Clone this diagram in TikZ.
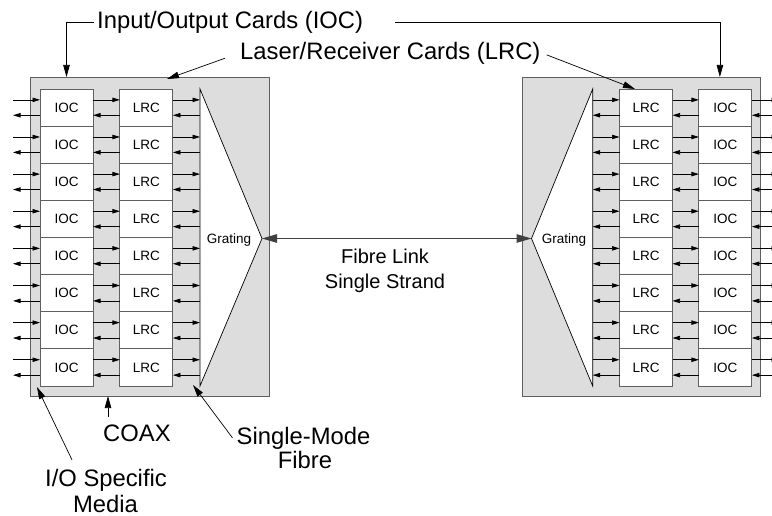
\documentclass[tikz,border=0pt]{standalone}
\usepackage{fontspec}
\setmainfont{Liberation Sans}
\usetikzlibrary{arrows.meta}
\definecolor{panelgray}{RGB}{221,221,221}
\definecolor{edgegray}{RGB}{95,95,95}
\begin{document}
\begin{tikzpicture}[x=1pt,y=-1pt,
  card/.style={draw=edgegray, line width=0.9pt, fill=white, minimum width=53pt, minimum height=37.125pt, inner sep=0pt, outer sep=0pt, font=\fontsize{13.5}{15}\selectfont},
  sig/.style={draw=black, line width=0.7pt, -{Triangle[length=7.5pt,width=4.4pt]}},
  lead/.style={draw=black, line width=0.7pt, -{Triangle[length=12pt,width=6.5pt]}},
  link/.style={draw=black!75, line width=1pt, {Triangle[length=15pt,width=8.5pt]}-{Triangle[length=15pt,width=8.5pt]}},
  biglbl/.style={inner sep=0pt, font=\fontsize{23.8}{26}\selectfont},
  midlbl/.style={inner sep=0pt, font=\fontsize{20}{24}\selectfont},
  small/.style={inner sep=0pt, font=\fontsize{13.5}{15}\selectfont},
  panel/.style={draw=edgegray, line width=0.9pt, fill=panelgray, inner sep=0pt, outer sep=0pt},
  grat/.style={draw=black, line width=0.7pt, fill=white}]
\clip (0,0) rectangle (772,516);
\fill[white] (0,0) rectangle (772,516);

% panels
\node[panel, minimum width=238.5pt, minimum height=319pt] (LP) at (149.75,236.5) {};
\node[panel, minimum width=238.2pt, minimum height=319pt] (RP) at (641.6,236.5) {};

% gratings
\coordinate (Ltip) at (262,238.5);
\coordinate (Rtip) at (531.5,238.5);
\draw[grat] (200,89) -- (Ltip) -- (200,386) -- cycle;
\draw[grat] (592.7,89) -- (Rtip) -- (592.7,386) -- cycle;

% cards and signal arrows
\foreach \i in {1,...,8}{
  \pgfmathsetmacro{\yc}{89+(\i-0.5)*37.125}
  \node[card] (Lioc\i) at (66.5,\yc) {IOC};
  \node[card] (Llrc\i) at (146.4,\yc) {LRC};
  \coordinate (Lg\i) at (200,\yc);
  \coordinate (Lo\i) at (13,\yc);
  \node[card] (Rlrc\i) at (646,\yc) {LRC};
  \node[card] (Rioc\i) at (725.4,\yc) {IOC};
  \coordinate (Rg\i) at (592.7,\yc);
  \coordinate (Ro\i) at (779,\yc);
  % left panel
  \draw[sig] ([yshift=7.7pt]Lo\i) -- ([yshift=7.7pt]Lioc\i.west);
  \draw[sig] ([yshift=7.7pt]Lioc\i.east) -- ([yshift=7.7pt]Llrc\i.west);
  \draw[sig] ([yshift=7.7pt]Llrc\i.east) -- ([yshift=7.7pt]Lg\i);
  \draw[sig] ([yshift=-7.7pt]Lg\i) -- ([yshift=-7.7pt]Llrc\i.east);
  \draw[sig] ([yshift=-7.7pt]Llrc\i.west) -- ([yshift=-7.7pt]Lioc\i.east);
  \draw[sig] ([yshift=-7.7pt]Lioc\i.west) -- ([yshift=-7.7pt]Lo\i);
  % right panel
  \draw[sig] ([yshift=7.7pt]Rg\i) -- ([yshift=7.7pt]Rlrc\i.west);
  \draw[sig] ([yshift=7.7pt]Rlrc\i.east) -- ([yshift=7.7pt]Rioc\i.west);
  \draw[sig] ([yshift=7.7pt]Rioc\i.east) -- ([yshift=7.7pt]Ro\i);
  \draw[sig] ([yshift=-7.7pt]Ro\i) -- ([yshift=-7.7pt]Rioc\i.east);
  \draw[sig] ([yshift=-7.7pt]Rioc\i.west) -- ([yshift=-7.7pt]Rlrc\i.east);
  \draw[sig] ([yshift=-7.7pt]Rlrc\i.west) -- ([yshift=-7.7pt]Rg\i);
}

% fibre link
\draw[link] (Ltip) -- (Rtip);
\node[small, anchor=base] (Lgratlbl) at (229,243.5) {Grating};
\node[small, anchor=base] (Rgratlbl) at (564,243.5) {Grating};
\node[midlbl, anchor=base] (fl1) at (385,263) {Fibre Link};
\node[midlbl, anchor=base] (fl2) at (385,288) {Single Strand};

% top labels
\node[biglbl, anchor=base west] (ioclbl) at (97,29) {Input/Output Cards (IOC)};
\node[biglbl, anchor=base west] (lrclbl) at (240,60) {Laser/Receiver Cards (LRC)};
\draw[lead] ([xshift=-3pt]ioclbl.west) -| ([yshift=12pt]Lioc1.north);
\draw[lead] ([xshift=32pt]ioclbl.east) -| ([xshift=-5.5pt,yshift=12pt]Rioc1.north);
\draw[lead] ([shift={(-15pt,-4.4pt)}]lrclbl.west) -- ([shift={(20.6pt,10pt)}]Llrc1.north);
\draw[lead] ([shift={(6pt,-1pt)}]lrclbl.east) -- ([xshift=-11pt]Rlrc1.north);

% bottom labels
\node[biglbl, anchor=base west] (coaxlbl) at (103,441.7) {COAX};
\node[biglbl, anchor=base] (iolbl) at (106,486.7) {I/O Specific};
\node[biglbl, anchor=base] (medialbl) at (105.5,512) {Media};
\node[biglbl, anchor=base] (smlbl) at (303.5,444) {Single-Mode};
\node[biglbl, anchor=base] (fibrelbl) at (305,468.5) {Fibre};
\draw[lead] ([shift={(5pt,8pt)}]coaxlbl.north west) -- ([xshift=-41.75pt]LP.south);
\draw[lead] ([shift={(-34pt,9.4pt)}]iolbl.north) -- ([shift={(6.5pt,9pt)}]LP.south west);
\draw[lead] ([xshift=-4pt]smlbl.west) -- ([shift={(-76pt,11pt)}]LP.south east);
\end{tikzpicture}
\end{document}
